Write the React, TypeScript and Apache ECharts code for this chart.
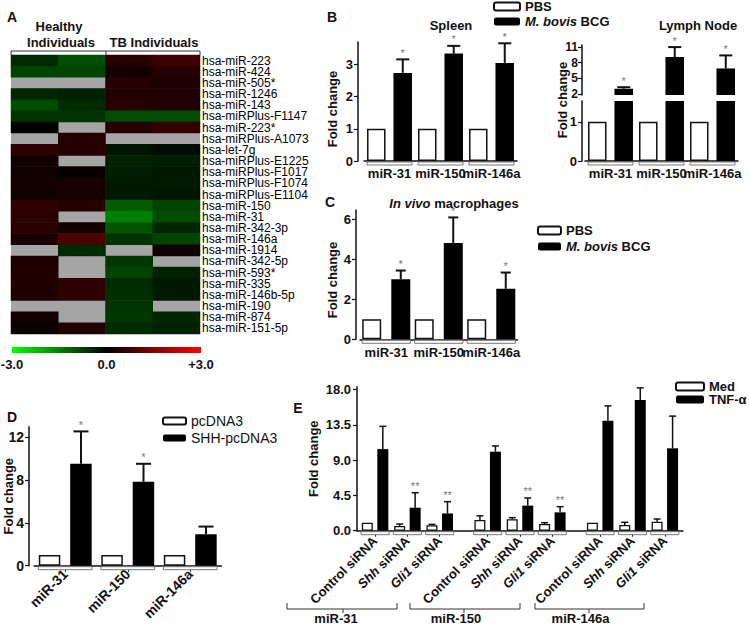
import React, { useEffect, useRef } from "react";
import * as echarts from "echarts";

// ---------- DATA ----------
const heatRows = [
  "hsa-miR-223", "hsa-miR-424", "hsa-miR-505*", "hsa-miR-1246", "hsa-miR-143",
  "hsa-miRPlus-F1147", "hsa-miR-223*", "hsa-miRPlus-A1073", "hsa-let-7g",
  "hsa-miRPlus-E1225", "hsa-miRPlus-F1017", "hsa-miRPlus-F1074", "hsa-miRPlus-E1104",
  "hsa-miR-150", "hsa-miR-31", "hsa-miR-342-3p", "hsa-miR-146a", "hsa-miR-1914",
  "hsa-miR-342-5p", "hsa-miR-593*", "hsa-miR-335", "hsa-miR-146b-5p", "hsa-miR-190",
  "hsa-miR-874", "hsa-miR-151-5p",
];
const heatCols = ["Healthy 1", "Healthy 2", "TB 1", "TB 2"];
const healthy1 = [-0.5, -0.8, null, -0.45, -0.9, -0.6, -0.05, null, 0.55, 0.2, 0.2, 0.25, 0.2, 0.55, 0.5, 0.5, 0.3, null, 0.35, 0.4, 0.4, 0.35, null, 0.2, 0.1];
const healthy2 = [-0.9, -0.8, null, -0.4, -0.5, -0.6, null, 0.45, 0.45, null, 0.1, 0.3, 0.3, 0.45, null, 0.25, 0.9, -0.5, null, null, 0.55, 0.55, null, null, 0.4];
const tb1 = [0.45, 0.25, 0.45, 0.4, 0.45, -0.9, 0.45, null, -0.25, -0.4, -0.35, -0.3, -0.3, -1.1, -1.5, -1.0, -0.6, null, -0.65, -0.8, -0.5, -0.55, -0.6, -0.65, -0.5];
const tb2 = [0.7, 0.45, 0.35, 0.35, 0.4, -0.9, 0.6, null, -0.15, -0.35, -0.3, -0.3, -0.25, -0.8, -0.9, -0.45, -0.8, 0.2, null, -0.4, -0.3, -0.3, null, -0.45, -0.4];
const colorbarTicks = ["-3.0", "0.0", "+3.0"];
const heatColors = ["#00ff00", "#000000", "#ff0000"];

const groups = ["miR-31", "miR-150", "miR-146a"];
// Panel B - spleen
const spleenPBS = [1, 1, 1];
const spleenBCG = [2.74, 3.34, 3.05];
const spleenBCGTop = [3.16, 3.58, 3.66];
const spleenStars = ["*", "*", "*"];
const spleenTicks = [0, 1, 2, 3];
// Panel B - lymph node (broken axis)
const lymphPBS = [1, 1, 1];
const lymphBCG = [3.0, 9.1, 6.9];
const lymphBCGTop = [3.3, 11.0, 9.4];
const lymphStars = ["*", "*", "*"];
const lymphUpperTicks = [2, 5, 8, 11];
const lymphLowerTicks = [0, 1];
// Panel C
const macroPBS = [1, 1, 1];
const macroBCG = [3.0, 4.8, 2.52];
const macroBCGTop = [3.43, 6.08, 3.33];
const macroStars = ["*", "*", "*"];
const macroTicks = [0, 2, 4, 6];
// Panel D
const dPcDNA3 = [1, 1, 1];
const dShh = [9.53, 7.84, 2.94];
const dShhTop = [12.56, 9.53, 3.66];
const dStars = ["*", "*", ""];
const dTicks = [0, 4, 8, 12];
// Panel E
const eTreat = ["Control siRNA", "Shh siRNA", "Gli1 siRNA"];
const eGroups = ["miR-31", "miR-150", "miR-146a"];
const eMed = [
  [1.02, 0.6, 0.69],
  [1.36, 1.45, 0.85],
  [1.02, 0.73, 1.15],
];
const eMedTop = [
  [null, 0.85, 0.8],
  [1.9, 1.66, 1.02],
  [null, 1.07, 1.49],
];
const eTnf = [
  [10.4, 2.93, 2.2],
  [10.07, 3.2, 2.34],
  [14.0, 16.65, 10.5],
];
const eTnfTop = [
  [13.3, 4.84, 3.7],
  [10.8, 4.17, 3.06],
  [15.9, 18.2, 14.6],
];
const eStars = [
  ["", "**", "**"],
  ["", "**", "**"],
  ["", "", ""],
];
const eTicks = [0, 4.5, 9, 13.5, 18];

// ---------- STYLE ----------
const FONT = "'Liberation Sans', Arial, Helvetica, sans-serif";
const INK = "#111";
const white = { color: "#fff", borderColor: INK, borderWidth: 1.5 };
const black = { color: "#000" };
const axLine = { show: true, lineStyle: { color: INK, width: 1.5 } };
const tickLbl = (size = 13) => ({ fontSize: size, fontWeight: "bold", color: INK, fontFamily: FONT });

function errSeries(xi: number, yi: number, vals: any[], tops: any[], stars: string[], offset: number, capW: number, lw: number) {
  return {
    type: "custom",
    name: "error",
    xAxisIndex: xi,
    yAxisIndex: yi,
    silent: true,
    z: 5,
    encode: { x: 0, y: 1 },
    data: vals.map((v, i) => [i, v, tops[i] == null ? NaN : tops[i]]),
    renderItem: (params: any, api: any) => {
      const i = api.value(0);
      const top = api.value(2);
      if (top == null || isNaN(top)) return null;
      const p0 = api.coord([i, api.value(1)]);
      const p1 = api.coord([i, top]);
      const x = p0[0] + offset;
      const star = stars[params.dataIndex] || "";
      const ch: any[] = [
        { type: "line", shape: { x1: x, y1: p0[1], x2: x, y2: p1[1] }, style: { stroke: INK, lineWidth: lw } },
        { type: "line", shape: { x1: x - capW / 2, y1: p1[1], x2: x + capW / 2, y2: p1[1] }, style: { stroke: INK, lineWidth: lw } },
      ];
      if (star) {
        ch.push({
          type: "text", x, y: p1[1] - 1,
          style: { text: star, fill: "#777", fontSize: 11, fontFamily: FONT, align: "center", verticalAlign: "bottom", textAlign: "center", textVerticalAlign: "bottom" },
        });
      }
      return { type: "group", children: ch };
    },
  };
}

// small outlined boxes under each group on the category axis (GraphPad style)
function boxSeries(xi: number, yi: number, n: number, frac: number) {
  return {
    type: "custom",
    name: "axis-box",
    xAxisIndex: xi,
    yAxisIndex: yi,
    silent: true,
    clip: false,
    z: 1,
    encode: { x: 0 },
    data: Array.from({ length: n }, (_, i) => [i, 0]),
    renderItem: (params: any, api: any) => {
      const p = api.coord([api.value(0), 0]);
      const bw = api.size([1, 0])[0] * frac;
      return {
        type: "rect",
        shape: { x: p[0] - bw / 2, y: p[1] + 1, width: bw, height: 3 },
        style: { fill: "#fff", stroke: "#777", lineWidth: 1 },
      };
    },
  };
}

function catAxis(gi: number, data: string[], extra: any = {}) {
  return {
    type: "category", gridIndex: gi, data,
    axisLine: axLine,
    axisTick: { show: false },
    axisLabel: { ...tickLbl(13), margin: 6, interval: 0 },
    ...extra,
  };
}
function valAxis(gi: number, ticks: number[], extra: any = {}, lblSize = 13, lblMargin = 5, fmt: any = undefined) {
  return {
    type: "value", gridIndex: gi, min: 0,
    axisLine: axLine,
    axisTick: { show: true, length: 4, lineStyle: { color: INK, width: 1.2 }, customValues: ticks },
    axisLabel: { ...tickLbl(lblSize), margin: lblMargin, customValues: ticks, formatter: fmt },
    splitLine: { show: false },
    nameLocation: "middle", nameRotate: 90, nameMoveOverlap: false,
    nameTextStyle: { fontSize: 13, fontWeight: "bold", color: INK, fontFamily: FONT },
    ...extra,
  };
}

const txt = (x: number, y: number, text: string, size = 13, extra: any = {}, rich: any = undefined) => ({
  type: "text", x, y, silent: true,
  style: {
    text, fontSize: size, fontWeight: "bold", fontFamily: FONT, fill: INK,
    textAlign: "center", textVerticalAlign: "middle", align: "center", verticalAlign: "middle",
    rich, ...extra,
  },
});

export default function App() {
  const ref = useRef<HTMLDivElement>(null);
  useEffect(() => {
    if (!ref.current) return;
    const chart = echarts.init(ref.current, undefined, { renderer: "svg" });

    const heatData: any[] = [];
    [healthy1, healthy2, tb1, tb2].forEach((col, c) =>
      col.forEach((v, r) => { if (v != null) heatData.push([c, r, v]); })
    );

    const legendBase = (names: string[], left: number, top: number, w: number, h: number, gap: number, weight = "bold", size = 13) => ({
      data: names, left, top, orient: "vertical", padding: 0,
      itemWidth: w, itemHeight: h, itemGap: gap, selectedMode: false,
      textStyle: {
        fontSize: size, fontWeight: weight, color: INK, fontFamily: FONT,
        rich: { i: { fontStyle: "italic", fontWeight: weight, fontSize: size, color: INK, fontFamily: FONT } },
      },
      formatter: (n: string) => n.replace("M. bovis", "{i|M. bovis}"),
    });

    const eSub = [358.9, 471.5, 584];
    const eTop = 386.7, eH = 144, eMax = 18.35;
    const eFmt = (v: string) => v.startsWith("Control") ? v : `{i|${v.split(" ")[0]}} ${v.split(" ").slice(1).join(" ")}`;

    const series: any[] = [
      {
        type: "heatmap", xAxisIndex: 0, yAxisIndex: 0, data: heatData,
        itemStyle: { borderWidth: 0 }, emphasis: { disabled: true }, silent: true,
      },
      // Spleen
      { type: "bar", name: "PBS", xAxisIndex: 1, yAxisIndex: 1, data: spleenPBS, barWidth: 18.5, barGap: "43%", itemStyle: white },
      { type: "bar", name: "M. bovis BCG", xAxisIndex: 1, yAxisIndex: 1, data: spleenBCG, barWidth: 18.5, barGap: "43%", itemStyle: black },
      errSeries(1, 1, spleenBCG, spleenBCGTop, spleenStars, 13.25, 13, 2),
      boxSeries(1, 1, groups.length, 0.88),
      // Lymph upper
      { type: "bar", name: "PBS", xAxisIndex: 2, yAxisIndex: 2, data: lymphPBS, barWidth: 18.5, barGap: "43%", itemStyle: white, clip: true },
      { type: "bar", name: "M. bovis BCG", xAxisIndex: 2, yAxisIndex: 2, data: lymphBCG, barWidth: 18.5, barGap: "43%", itemStyle: black, clip: true },
      errSeries(2, 2, lymphBCG, lymphBCGTop, lymphStars, 13.25, 13, 2),
      // Lymph lower
      { type: "bar", name: "PBS", xAxisIndex: 3, yAxisIndex: 3, data: lymphPBS, barWidth: 18.5, barGap: "43%", itemStyle: white, clip: true },
      { type: "bar", name: "M. bovis BCG", xAxisIndex: 3, yAxisIndex: 3, data: lymphBCG, barWidth: 18.5, barGap: "43%", itemStyle: black, clip: true },
      boxSeries(3, 3, groups.length, 0.88),
      // C
      { type: "bar", name: "PBS", xAxisIndex: 4, yAxisIndex: 4, data: macroPBS, barWidth: 19, barGap: "53%", itemStyle: white },
      { type: "bar", name: "M. bovis BCG", xAxisIndex: 4, yAxisIndex: 4, data: macroBCG, barWidth: 19, barGap: "53%", itemStyle: black },
      errSeries(4, 4, macroBCG, macroBCGTop, macroStars, 14.5, 10, 2),
      boxSeries(4, 4, groups.length, 0.92),
      // D
      { type: "bar", name: "pcDNA3", xAxisIndex: 5, yAxisIndex: 5, data: dPcDNA3, barWidth: 21.5, barGap: "46%", itemStyle: white },
      { type: "bar", name: "SHH-pcDNA3", xAxisIndex: 5, yAxisIndex: 5, data: dShh, barWidth: 21.5, barGap: "46%", itemStyle: black },
      errSeries(5, 5, dShh, dShhTop, dStars, 15.75, 15, 2),
      boxSeries(5, 5, groups.length, 0.86),
    ];
    eGroups.forEach((_, g) => {
      const ax = 7 + g;
      series.push(
        { type: "bar", name: "Med", xAxisIndex: ax, yAxisIndex: ax, data: eMed[g], barWidth: 11, barGap: "41%", itemStyle: { ...white, borderWidth: 1.3 } },
        { type: "bar", name: "TNF-α", xAxisIndex: ax, yAxisIndex: ax, data: eTnf[g], barWidth: 11, barGap: "41%", itemStyle: black },
        errSeries(ax, ax, eMed[g], eMedTop[g], ["", "", ""], -7.75, 7, 1.5),
        errSeries(ax, ax, eTnf[g], eTnfTop[g], eStars[g], 7.75, 7, 1.5),
        boxSeries(ax, ax, eTreat.length, 0.87),
      );
    });

    const eBrackets = [
      [287, 397, 343], [410, 520, 464], [535, 644, 589],
    ];
    const eLabelX = [336, 456, 580.5];

    const graphic: any[] = [
      txt(7, 17, "A", 14, { textAlign: "left", align: "left" }),
      txt(59, 26, "Healthy", 13),
      txt(61, 42, "Individuals", 13),
      txt(154, 42, "TB Individuals", 13),
      { type: "polyline", silent: true, shape: { points: [[11, 55], [11, 51], [200, 51], [200, 55]] }, style: { stroke: "#333", lineWidth: 1, fill: null } },
      { type: "line", silent: true, shape: { x1: 106, y1: 51, x2: 106, y2: 55 }, style: { stroke: "#333", lineWidth: 1 } },
      {
        type: "rect", silent: true, shape: { x: 12, y: 347, width: 189, height: 6 },
        style: {
          fill: {
            type: "linear", x: 0, y: 0, x2: 1, y2: 0,
            colorStops: heatColors.map((c, i) => ({ offset: i / (heatColors.length - 1), color: c })),
          },
        },
      },
      ...colorbarTicks.map((t, i) => txt(12 + (189 * i) / (colorbarTicks.length - 1), 364, t, 13)),
      txt(332, 17, "B", 14),
      txt(451, 25, "Spleen", 13),
      txt(698, 25, "Lymph Node", 13),
      { ...txt(332, 109, "Fold change", 13), rotation: Math.PI / 2 },
      { ...txt(562, 100, "Fold change", 13), rotation: Math.PI / 2 },
      txt(330, 202, "C", 14),
      txt(454, 203, "{i|In vivo} macrophages", 13, {}, { i: { fontStyle: "italic", fontWeight: "bold", fontSize: 13, fontFamily: FONT, fill: INK } }),
      { ...txt(332, 280, "Fold change", 13), rotation: Math.PI / 2 },
      txt(7, 417, "D", 14, { textAlign: "left", align: "left" }),
      txt(298, 408, "E", 14),
    ];
    eBrackets.forEach(([a, b, c], i) => {
      graphic.push(
        { type: "polyline", silent: true, shape: { points: [[a, 603], [a, 609], [b, 609], [b, 603]] }, style: { stroke: "#333", lineWidth: 1, fill: null } },
        { type: "line", silent: true, shape: { x1: c, y1: 609, x2: c, y2: 613 }, style: { stroke: "#333", lineWidth: 1 } },
        txt(eLabelX[i], 618.5, eGroups[i], 13),
      );
    });

    const option: any = {
      animation: false,
      textStyle: { fontFamily: FONT },
      grid: [
        { left: 11, top: 55, width: 189, height: 279, show: true, backgroundColor: "#a5a5a5", borderWidth: 0 },
        { left: 364, top: 42, width: 153, height: 119 },
        { left: 585, top: 45, width: 153, height: 50 },
        { left: 585, top: 101, width: 153, height: 60 },
        { left: 360, top: 210, width: 157.5, height: 129.3 },
        { left: 34, top: 426.7, width: 187.5, height: 139 },
        { left: 357, top: eTop, width: 326, height: eH },
        ...eSub.map((l) => ({ left: l, top: eTop, width: 97, height: eH })),
      ],
      xAxis: [
        { type: "category", gridIndex: 0, data: heatCols, show: false },
        catAxis(1, groups),
        { type: "category", gridIndex: 2, data: groups, show: false },
        catAxis(3, groups),
        catAxis(4, groups, { axisLabel: { ...tickLbl(13), margin: 7, interval: 0 } }),
        catAxis(5, groups, {
          axisTick: { show: true, alignWithLabel: true, length: 6, lineStyle: { color: INK } },
          axisLabel: { ...tickLbl(14), margin: 6, rotate: 45, interval: 0 },
        }),
        { type: "category", gridIndex: 6, data: [""], axisLine: axLine, axisTick: { show: false }, axisLabel: { show: false } },
        ...eSub.map((_, g) => ({
          type: "category", gridIndex: 7 + g, data: eTreat,
          axisLine: { show: false },
          axisTick: { show: true, alignWithLabel: true, length: 6, lineStyle: { color: INK } },
          axisLabel: {
            ...tickLbl(13), margin: 8, rotate: 45, interval: 0, formatter: eFmt,
            rich: { i: { fontStyle: "italic", fontWeight: "bold", fontSize: 13, color: INK, fontFamily: FONT } },
          },
        })),
      ],
      yAxis: [
        {
          type: "category", gridIndex: 0, data: heatRows, inverse: true, position: "right",
          axisLine: { show: false }, axisTick: { show: false },
          axisLabel: { fontSize: 12, color: "#000", margin: 2, interval: 0, fontFamily: FONT },
        },
        valAxis(1, spleenTicks, { max: 3.7, offset: 6 }),
        valAxis(2, lymphUpperTicks, { min: 1.8, max: 11.4, offset: 3 }, 12, 4),
        valAxis(3, lymphLowerTicks, { max: 1.53, offset: 3 }),
        valAxis(4, macroTicks, { max: 6.45, offset: 4 }),
        valAxis(5, dTicks, { max: 13, offset: 5, name: "Fold change", nameGap: 14 }, 14, 5),
        valAxis(6, eTicks, { max: eMax, name: "Fold change", nameGap: 37 }, 13, 6, (v: number) => v.toFixed(1)),
        ...eSub.map((_, g) => ({ type: "value", gridIndex: 7 + g, min: 0, max: eMax, show: false })),
      ],
      visualMap: {
        show: false, type: "continuous", min: -3, max: 3, dimension: 2, seriesIndex: 0,
        inRange: { color: heatColors },
      },
      legend: [
        legendBase(["PBS", "M. bovis BCG"], 493, 0, 26, 8, 2),
        legendBase(["PBS", "M. bovis BCG"], 537, 224, 23, 8, 3),
        legendBase(["pcDNA3", "SHH-pcDNA3"], 162, 414, 23, 7, 3, "normal", 14),
        legendBase(["Med", "TNF-α"], 675, 380, 28, 8, 0),
      ],
      graphic,
      series,
    };
    chart.setOption(option);
    return () => chart.dispose();
  }, []);
  return <div ref={ref} style={{ position: "absolute", left: 0, top: 0, width: 750, height: 625, background: "#fff" }} />;
}
